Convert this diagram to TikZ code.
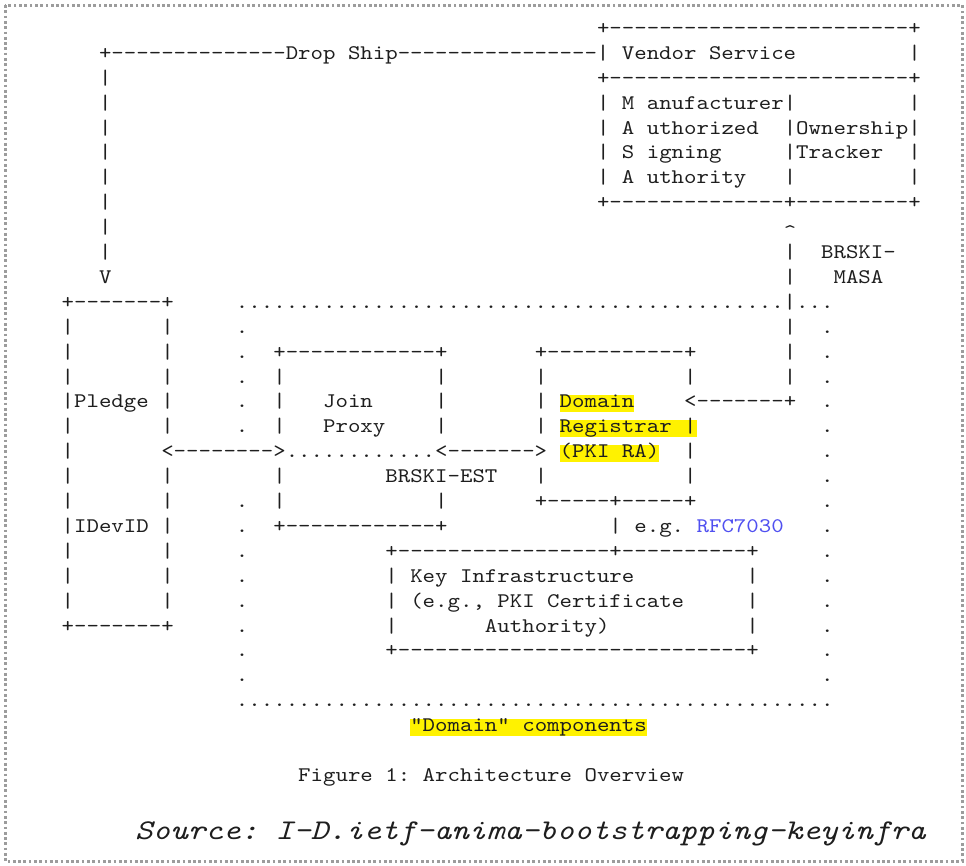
\documentclass[tikz,border=0pt]{standalone}
\usepackage{fontspec}
\newfontfamily\asciifont{lmmono10-regular.otf}[FakeStretch=1.14]
\newfontfamily\srcfont{lmmono10-italic.otf}[FakeStretch=1.17]
\ExplSyntaxOn
\NewDocumentCommand\dsh{m}{\prg_replicate:nn{#1}{-\kern0pt}}
\NewDocumentCommand\dts{m}{\prg_replicate:nn{#1}{.\kern0pt}}
\ExplSyntaxOff
\definecolor{ink}{HTML}{1E1E1E}
\definecolor{hlyellow}{HTML}{FFF200}
\definecolor{linkblue}{HTML}{5050F0}
\definecolor{framegray}{HTML}{9C9C9C}
\newcounter{seg}
\tikzset{
  txt/.style={anchor=base west, inner sep=0pt, outer sep=0pt, text=ink,
    font=\asciifont\fontsize{20.8}{25}\selectfont\frenchspacing},
  hl/.style={txt, fill=hlyellow, text height=13pt, text depth=4.5pt},
  link/.style={txt, text=linkblue},
  src/.style={anchor=base west, inner sep=0pt, text=ink,
    font=\srcfont\fontsize{28.6}{32}\selectfont\frenchspacing},
  frame/.style={draw=framegray, line width=3pt, dash pattern=on 2.7pt off 2.6pt}
}
% #1 style, #2 row, #3 column, #4 text
\newcommand\T[4][txt]{\stepcounter{seg}\node[#1] (s\theseg) at ({61.675+12.45*(#3)},{34.4+24.9*(#2)}) {#4};}
\begin{document}
\begin{tikzpicture}[x=1pt,y=-1pt]
\useasboundingbox (0,0) rectangle (966,865);
\draw[frame] (5,5) rectangle (962,861);
% Vendor service
\T{0}{43}{+\dsh{24}+}
\T{1}{3}{+\dsh{14}Drop Ship\dsh{16}| Vendor Service}
\T{1}{68}{|}
\T{2}{3}{|}\T{2}{43}{+\dsh{24}+}
\T{3}{3}{|}\T{3}{43}{| M anufacturer|}\T{3}{68}{|}
\T{4}{3}{|}\T{4}{43}{| A uthorized}\T{4}{58}{|Ownership|}
\T{5}{3}{|}\T{5}{43}{| S igning}\T{5}{58}{|Tracker}\T{5}{68}{|}
\T{6}{3}{|}\T{6}{43}{| A uthority}\T{6}{58}{|}\T{6}{68}{|}
\T{7}{3}{|}\T{7}{43}{+\dsh{14}+\dsh{9}+}
\T{8}{3}{|}\T{8}{58}{\raisebox{-4.5pt}{\textasciicircum}}
\T{9}{3}{|}\T{9}{58}{|}\T{9}{61}{BRSKI-}
\T{10}{3}{V}\T{10}{58}{|}\T{10}{62}{MASA}
% domain area
\T{11}{0}{+\dsh{7}+}\T{11}{14}{\dts{44}|\dts{3}}
\T{12}{0}{|}\T{12}{8}{|}\T{12}{14}{.}\T{12}{58}{|}\T{12}{61}{.}
\T{13}{0}{|}\T{13}{8}{|}\T{13}{14}{.}\T{13}{17}{+\dsh{12}+}\T{13}{38}{+\dsh{11}+}\T{13}{58}{|}\T{13}{61}{.}
\T{14}{0}{|}\T{14}{8}{|}\T{14}{14}{.}\T{14}{17}{|}\T{14}{30}{|}\T{14}{38}{|}\T{14}{50}{|}\T{14}{58}{|}\T{14}{61}{.}
\T{15}{0}{|Pledge}\T{15}{8}{|}\T{15}{14}{.}\T{15}{17}{|}\T{15}{21}{Join}\T{15}{30}{|}\T{15}{38}{|}\T[hl]{15}{40}{Domain}\T{15}{50}{<\dsh{7}+}\T{15}{61}{.}
\T{16}{0}{|}\T{16}{8}{|}\T{16}{14}{.}\T{16}{17}{|}\T{16}{21}{Proxy}\T{16}{30}{|}\T{16}{38}{|}\T[hl]{16}{40}{Registrar |}\T{16}{61}{.}
\T{17}{0}{|}\T{17}{8}{<\dsh{8}>\dts{12}<\dsh{7}>}\T[hl]{17}{40}{(PKI RA)}\T{17}{50}{|}\T{17}{61}{.}
\T{18}{0}{|}\T{18}{8}{|}\T{18}{17}{|}\T{18}{26}{BRSKI-EST}\T{18}{38}{|}\T{18}{50}{|}\T{18}{61}{.}
\T{19}{0}{|}\T{19}{8}{|}\T{19}{14}{.}\T{19}{17}{|}\T{19}{30}{|}\T{19}{38}{+\dsh{5}+\dsh{5}+}\T{19}{61}{.}
\T{20}{0}{|IDevID}\T{20}{8}{|}\T{20}{14}{.}\T{20}{17}{+\dsh{12}+}\T{20}{44}{| e.g.}\T[link]{20}{51}{RFC7030}\T{20}{61}{.}
\T{21}{0}{|}\T{21}{8}{|}\T{21}{14}{.}\T{21}{26}{+\dsh{17}+\dsh{10}+}\T{21}{61}{.}
\T{22}{0}{|}\T{22}{8}{|}\T{22}{14}{.}\T{22}{26}{| Key Infrastructure}\T{22}{55}{|}\T{22}{61}{.}
\T{23}{0}{|}\T{23}{8}{|}\T{23}{14}{.}\T{23}{26}{| (e.g., PKI Certificate}\T{23}{55}{|}\T{23}{61}{.}
\T{24}{0}{+\dsh{7}+}\T{24}{14}{.}\T{24}{26}{|}\T{24}{34}{Authority)}\T{24}{55}{|}\T{24}{61}{.}
\T{25}{14}{.}\T{25}{26}{+\dsh{28}+}\T{25}{61}{.}
\T{26}{14}{.}\T{26}{61}{.}
\T{27}{14}{\dts{48}}
\T[hl]{28}{28}{"Domain" components}
\T{30}{19}{Figure 1: Architecture Overview}
\node[src] (source) at (135,839) {Source: I-D.ietf-anima-bootstrapping-keyinfra};
\end{tikzpicture}
\end{document}
